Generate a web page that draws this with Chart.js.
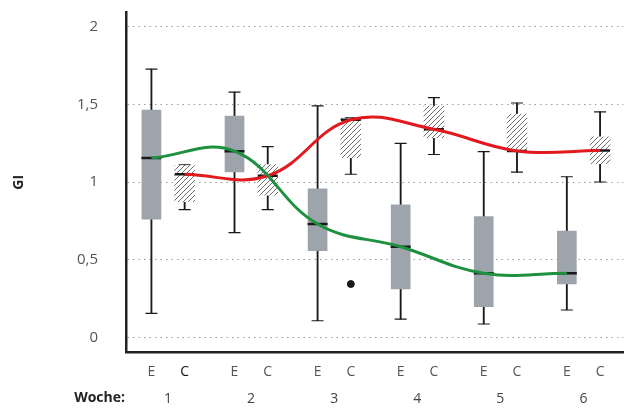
<!DOCTYPE html>
<html>
<head>
<meta charset="utf-8">
<script src="https://cdn.jsdelivr.net/npm/chart.js@4.4.1/dist/chart.umd.min.js"></script>
<style>
  body { margin: 0; background: #fff; }
</style>
</head>
<body>
<canvas id="myChart" width="636" height="410"></canvas>
<script>
// weeks and the two groups shown per week
const weeks = [1, 2, 3, 4, 5, 6];
const groupLabels = ['E', 'C'];
const yTicks = [0, 0.5, 1, 1.5, 2];

// group E (grey boxes, green line through medians)
const eMin = [0.156, 0.675, 0.108, 0.118, 0.087, 0.177];
const eQ1 = [0.761, 1.065, 0.559, 0.312, 0.198, 0.344];
const eMed = [1.154, 1.198, 0.730, 0.584, 0.413, 0.413];
const eQ3 = [1.462, 1.424, 0.956, 0.854, 0.778, 0.684];
const eMax = [1.726, 1.578, 1.490, 1.249, 1.196, 1.034];

// group C (hatched boxes, red line through medians)
const cMin = [0.823, 0.823, 1.050, 1.177, 1.063, 1.000];
const cQ1 = [0.873, 0.916, 1.156, 1.285, 1.200, 1.118];
const cMed = [1.050, 1.040, 1.400, 1.339, 1.200, 1.203];
const cQ3 = [1.105, 1.112, 1.411, 1.489, 1.437, 1.291];
const cMax = [1.110, 1.228, 1.415, 1.542, 1.508, 1.451];
const cOutlier = [null, null, 0.344, null, null, null];

const SHIFT = 0.2; // offset of E / C from the week centre
const ePos = weeks.map(w => w - SHIFT);
const cPos = weeks.map(w => w + SHIFT);

// hatch pattern for the C boxes
function makeHatch() {
  const c = document.createElement('canvas');
  c.width = 5;
  c.height = 5;
  const g = c.getContext('2d');
  g.fillStyle = '#fff';
  g.fillRect(0, 0, 5, 5);
  g.strokeStyle = '#707070';
  g.lineWidth = 1;
  g.beginPath();
  g.moveTo(0, 5); g.lineTo(5, 0);
  g.moveTo(-1, 1); g.lineTo(1, -1);
  g.moveTo(4, 6); g.lineTo(6, 4);
  g.stroke();
  return g.createPattern(c, 'repeat');
}

const whiskers = [];
const caps = [];
weeks.forEach((w, i) => {
  whiskers.push({ x: ePos[i], y: [eMin[i], eMax[i]] }, { x: cPos[i], y: [cMin[i], cMax[i]] });
  caps.push({ x: ePos[i], y: eMin[i] }, { x: ePos[i], y: eMax[i] },
            { x: cPos[i], y: cMin[i] }, { x: cPos[i], y: cMax[i] });
});
const eBoxes = weeks.map((w, i) => ({ x: ePos[i], y: [eQ1[i], eQ3[i]] }));
const cBoxes = weeks.map((w, i) => ({ x: cPos[i], y: [cQ1[i], cQ3[i]] }));
const medians = weeks.flatMap((w, i) => [{ x: ePos[i], y: eMed[i] }, { x: cPos[i], y: cMed[i] }]);
const outliers = weeks.map((w, i) => ({ x: cPos[i], y: cOutlier[i] })).filter(p => p.y !== null);

const X_MIN = 0.494;
const X_MAX = 6.482;
const font = '"Open Sans", "DejaVu Sans", sans-serif';

// "Woche:" caption left of the week numbers
const wocheLabel = {
  id: 'wocheLabel',
  afterDraw(chart) {
    const s = chart.scales.x2;
    const c = chart.ctx;
    c.save();
    c.font = 'bold 14px ' + font;
    c.fillStyle = '#222';
    c.textAlign = 'right';
    c.textBaseline = 'middle';
    c.fillText('Woche:', chart.chartArea.left - 1, s.top + s.options.ticks.padding + 15);
    c.restore();
  },
};

// horizontal axes: no extra room for the outer labels
const noSidePad = axis => {
  axis.paddingLeft = 0;
  axis.paddingRight = 0;
};

const ctx = document.getElementById('myChart').getContext('2d');
new Chart(ctx, {
  type: 'bar',
  data: {
    datasets: [
      {
        type: 'line',
        data: weeks.map((w, i) => ({ x: ePos[i], y: eMed[i] })),
        borderColor: '#1e9140',
        borderWidth: 3,
        tension: 0.4,
        pointRadius: 0,
        order: 0,
      },
      {
        type: 'line',
        data: weeks.map((w, i) => ({ x: cPos[i], y: cMed[i] })),
        borderColor: '#e3191f',
        borderWidth: 3,
        tension: 0.4,
        pointRadius: 0,
        order: 0,
      },
      {
        type: 'scatter',
        data: medians,
        pointStyle: 'line',
        pointRadius: 10,
        borderColor: '#1a1a1a',
        borderWidth: 2.5,
        order: 1,
      },
      {
        type: 'scatter',
        data: outliers,
        pointRadius: 3.5,
        backgroundColor: '#1a1a1a',
        borderColor: '#1a1a1a',
        order: 1,
      },
      {
        data: eBoxes,
        backgroundColor: '#9ea4ab',
        barThickness: 19,
        grouped: false,
        order: 2,
      },
      {
        data: cBoxes,
        backgroundColor: makeHatch(),
        barThickness: 20,
        grouped: false,
        order: 2,
      },
      {
        type: 'scatter',
        data: caps,
        pointStyle: 'line',
        pointRadius: 6,
        borderColor: '#1a1a1a',
        borderWidth: 1.2,
        order: 3,
      },
      {
        data: whiskers,
        backgroundColor: '#1a1a1a',
        barThickness: 1.2,
        grouped: false,
        order: 3,
      },
    ],
  },
  options: {
    responsive: false,
    animation: false,
    layout: { padding: { top: 8, right: 1, left: 0, bottom: 0 } },
    plugins: {
      legend: { display: false },
      tooltip: { enabled: false },
    },
    scales: {
      x: {
        type: 'linear',
        position: 'bottom',
        min: X_MIN,
        max: X_MAX,
        offset: false,
        grid: { display: false },
        border: { display: true, color: '#222', width: 2.5 },
        afterBuildTicks: axis => {
          axis.ticks = weeks.flatMap((w, i) => [{ value: ePos[i] }, { value: cPos[i] }]);
        },
        afterFit: axis => {
          axis.height = 30;
          noSidePad(axis);
        },
        ticks: {
          autoSkip: false,
          maxRotation: 0,
          padding: 4,
          font: { family: font, size: 14 },
          color: c => (c.index === 1 ? '#111' : '#555'),
          callback: (value, index) => groupLabels[index % 2],
        },
      },
      x2: {
        type: 'linear',
        position: 'bottom',
        min: X_MIN,
        max: X_MAX,
        offset: false,
        grid: { display: false },
        border: { display: false },
        afterBuildTicks: axis => {
          axis.ticks = weeks.map(w => ({ value: w }));
        },
        afterFit: axis => {
          axis.height = 28;
          noSidePad(axis);
        },
        ticks: {
          autoSkip: false,
          maxRotation: 0,
          padding: 1,
          font: { family: font, size: 14 },
          color: '#444',
          callback: (value, index) => String(weeks[index]),
        },
      },
      y: {
        min: -0.093,
        max: 2.09,
        afterBuildTicks: axis => {
          axis.ticks = yTicks.map(v => ({ value: v }));
        },
        afterFit: axis => {
          axis.width = 126;
          axis.paddingTop = 0;
          axis.paddingBottom = 0;
        },
        grid: { color: '#9a9a9a', lineWidth: 1, drawTicks: false },
        border: { display: true, color: '#222', width: 2.5, dash: [1.5, 4] },
        ticks: {
          padding: 28,
          font: { family: font, size: 15 },
          color: '#555',
          callback: v => String(v).replace('.', ','),
        },
        title: {
          display: true,
          text: 'GI',
          font: { family: font, size: 14, weight: 'bold' },
          color: '#222',
          padding: { top: 11, bottom: 0 },
        },
      },
    },
  },
  plugins: [wocheLabel],
});
</script>
</body>
</html>
